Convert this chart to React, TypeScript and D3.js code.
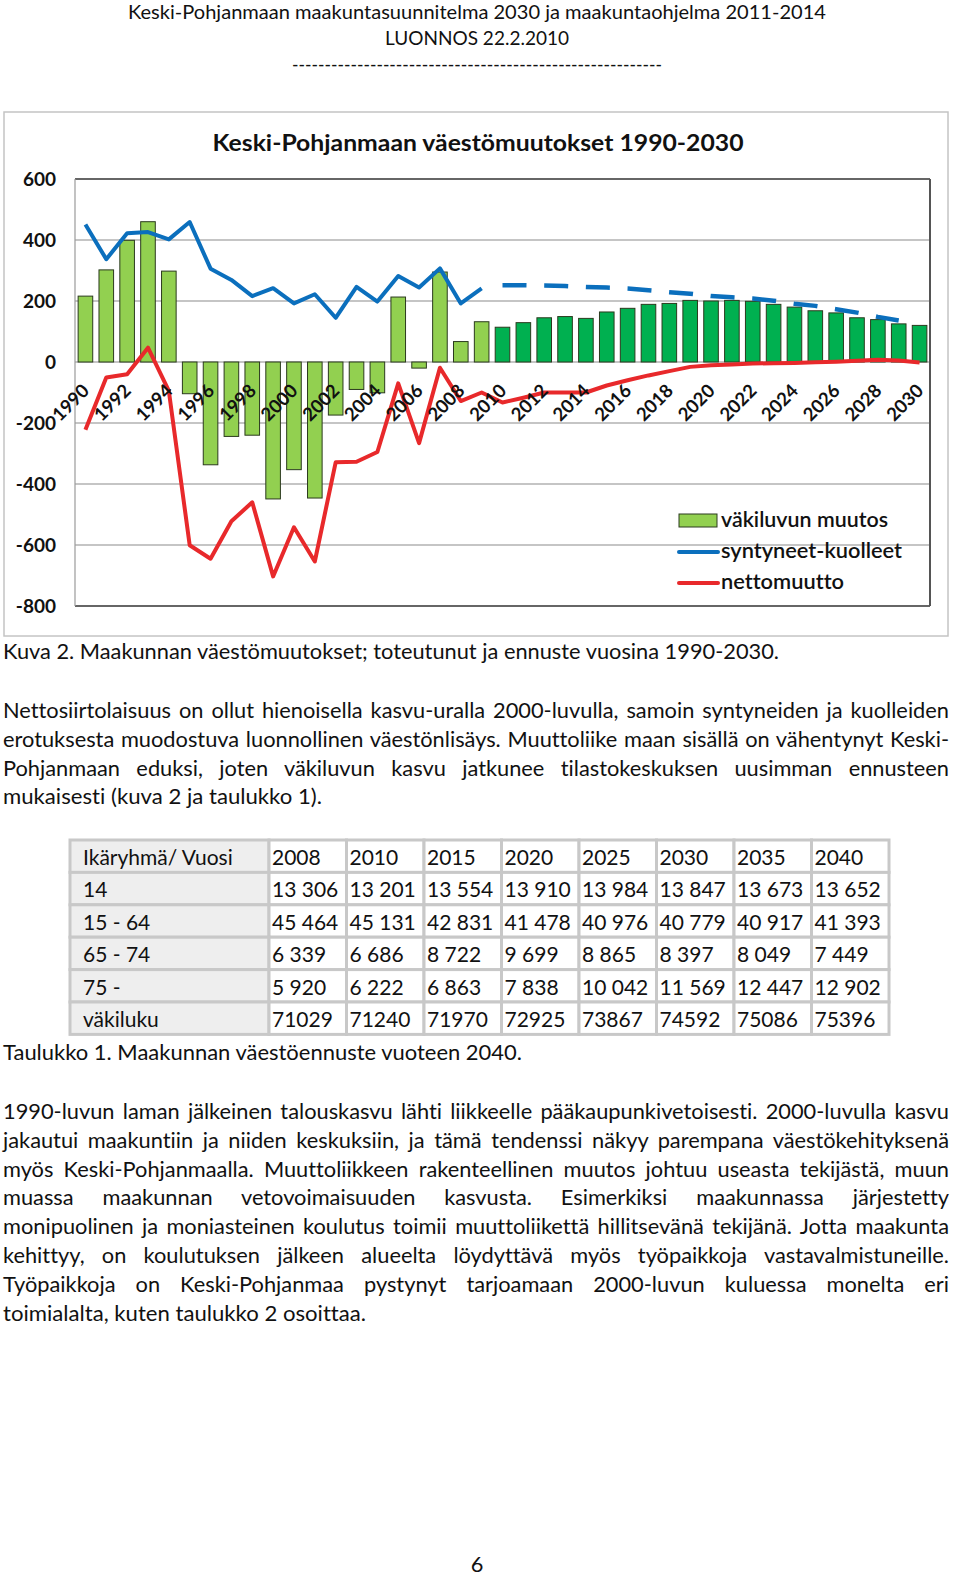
import React, { useEffect, useRef } from "react";
import * as d3 from "d3";

// vuodet (kategoriat)
const years = [
  1990, 1991, 1992, 1993, 1994, 1995, 1996, 1997, 1998, 1999, 2000, 2001, 2002,
  2003, 2004, 2005, 2006, 2007, 2008, 2009, 2010, 2011, 2012, 2013, 2014, 2015,
  2016, 2017, 2018, 2019, 2020, 2021, 2022, 2023, 2024, 2025, 2026, 2027, 2028,
  2029, 2030,
];
const lastActual = 2009;

// väkiluvun muutos 1990-2030
const muutos = [
  216, 302, 399, 460, 298, -104, -337, -244, -240, -449, -353, -446, -174, -90,
  -101, 213, -20, 295, 67, 132, 114, 129, 145, 149, 143, 164, 176, 189, 192, 202,
  200, 202, 199, 189, 180, 168, 161, 145, 139, 125, 120,
];

// syntyneet-kuolleet, toteutunut 1990-2009
const syntyneetYears = [
  1990, 1991, 1992, 1993, 1994, 1995, 1996, 1997, 1998, 1999, 2000, 2001, 2002,
  2003, 2004, 2005, 2006, 2007, 2008, 2009,
];
const syntyneet = [
  451, 337, 422, 426, 402, 459, 306, 269, 216, 242, 192, 222, 145, 246, 198, 282,
  244, 307, 192, 241,
];
// syntyneet-kuolleet, ennuste 2010-2029
const ennusteYears = [
  2010, 2011, 2012, 2013, 2014, 2015, 2016, 2017, 2018, 2019, 2020, 2021, 2022,
  2023, 2024, 2025, 2026, 2027, 2028, 2029,
];
const syntyneetEnnuste = [
  252, 252, 251, 249, 246, 244, 241, 235, 229, 224, 216, 212, 208, 201, 191, 184,
  173, 162, 148, 136,
];

// nettomuutto 1990-2030
const nettomuutto = [
  -222, -51, -40, 47, -95, -601, -645, -522, -460, -703, -542, -654, -329, -327,
  -295, -70, -266, -19, -128, -100, -133, -117, -100, -100, -100, -77, -60, -44,
  -30, -16, -11, -8, -5, -4, -3, -1, 1, 4, 7, 5, -2,
];

const yTicks = [600, 400, 200, 0, -200, -400, -600, -800];

const legendItems = ["väkiluvun muutos", "syntyneet-kuolleet", "nettomuutto"];

// taulukko 1
const tableHeader = ["Ikäryhmä/ Vuosi", "2008", "2010", "2015", "2020", "2025", "2030", "2035", "2040"];
const tableRows = [
  ["14", "13 306", "13 201", "13 554", "13 910", "13 984", "13 847", "13 673", "13 652"],
  ["15 - 64", "45 464", "45 131", "42 831", "41 478", "40 976", "40 779", "40 917", "41 393"],
  ["65 - 74", "6 339", "6 686", "8 722", "9 699", "8 865", "8 397", "8 049", "7 449"],
  ["75 -", "5 920", "6 222", "6 863", "7 838", "10 042", "11 569", "12 447", "12 902"],
  ["väkiluku", "71029", "71240", "71970", "72925", "73867", "74592", "75086", "75396"],
];

const headerLines = [
  "Keski-Pohjanmaan maakuntasuunnitelma 2030 ja maakuntaohjelma 2011-2014",
  "LUONNOS 22.2.2010",
  "---------------------------------------------------------",
];

const para1 = [
  "Nettosiirtolaisuus on ollut hienoisella kasvu-uralla 2000-luvulla, samoin syntyneiden ja kuolleiden",
  "erotuksesta muodostuva luonnollinen väestönlisäys. Muuttoliike maan sisällä on vähentynyt Keski-",
  "Pohjanmaan eduksi, joten väkiluvun kasvu jatkunee tilastokeskuksen uusimman ennusteen",
  "mukaisesti (kuva 2 ja taulukko 1).",
];
const para2 = [
  "1990-luvun laman jälkeinen talouskasvu lähti liikkeelle pääkaupunkivetoisesti. 2000-luvulla kasvu",
  "jakautui maakuntiin ja niiden keskuksiin, ja tämä tendenssi näkyy parempana väestökehityksenä",
  "myös Keski-Pohjanmaalla. Muuttoliikkeen rakenteellinen muutos johtuu useasta tekijästä, muun",
  "muassa maakunnan vetovoimaisuuden kasvusta. Esimerkiksi maakunnassa järjestetty",
  "monipuolinen ja moniasteinen koulutus toimii muuttoliikettä hillitsevänä tekijänä. Jotta maakunta",
  "kehittyy, on koulutuksen jälkeen alueelta löydyttävä myös työpaikkoja vastavalmistuneille.",
  "Työpaikkoja on Keski-Pohjanmaa pystynyt tarjoamaan 2000-luvun kuluessa monelta eri",
  "toimialalta, kuten taulukko 2 osoittaa.",
];

const FONT = "Lato, 'Open Sans', sans-serif";
const BODY = 21.8;
const LINE = 28.8;
const TEXT_LEFT = 3;
const TEXT_RIGHT = 949;

const plot = { left: 75, right: 930, top: 179, bottom: 606 };

const App: React.FC = () => {
  const svgRef = useRef<SVGSVGElement | null>(null);

  const x = d3
    .scaleBand<number>()
    .domain(years)
    .range([plot.left, plot.right])
    .paddingInner(0.3)
    .paddingOuter(0.15);
  const y = d3.scaleLinear().domain([-800, 600]).range([plot.bottom, plot.top]);
  const cx = (yr: number) => (x(yr) as number) + x.bandwidth() / 2;

  const line = d3
    .line<[number, number]>()
    .x((d) => cx(d[0]))
    .y((d) => y(d[1]));

  const solidBlue = line(syntyneetYears.map((yr, i) => [yr, syntyneet[i]]));
  const dashedBlue = line(ennusteYears.map((yr, i) => [yr, syntyneetEnnuste[i]]));
  const redLine = line(years.map((yr, i) => [yr, nettomuutto[i]]));

  useEffect(() => {
    // tasataan rivit molempiin reunoihin sanavälejä kasvattamalla
    const justify = () => {
      if (!svgRef.current) return;
      d3.select(svgRef.current)
        .selectAll<SVGTextElement, unknown>("text.justify")
        .each(function () {
          this.removeAttribute("word-spacing");
          const natural = this.getComputedTextLength();
          const spaces = (this.textContent || "").split(" ").length - 1;
          if (spaces > 0) {
            const extra = (TEXT_RIGHT - TEXT_LEFT - natural) / spaces;
            this.setAttribute("word-spacing", String(extra));
          }
        });
    };
    justify();
    if ((document as any).fonts) (document as any).fonts.ready.then(justify);
  }, []);

  const para1Top = 718;
  const para2Top = 1119;

  const tLeft = 70;
  const tTop = 840;
  const col0 = 199;
  const colW = 77.5;
  const rowH = 32.4;
  const allRows = [tableHeader, ...tableRows];
  const colX = (c: number) => (c === 0 ? tLeft : tLeft + col0 + (c - 1) * colW);
  const colWidth = (c: number) => (c === 0 ? col0 : colW);

  const headerWidths = [698, 184, 370];
  const legendWidths = [167, 181, 123];

  return (
    <div style={{ position: "absolute", left: 0, top: 0 }}>
      <svg
        ref={svgRef}
        width={960}
        height={1581}
        style={{ display: "block", background: "#fff", fontVariantLigatures: "none" }}
        fontFamily={FONT}
      >
        {/* sivun otsikko */}
        {headerLines.map((t, i) => (
          <text
            key={i}
            x={477}
            y={19 + i * 26}
            textAnchor="middle"
            fontSize={20}
            fill="#111"
            textLength={headerWidths[i]}
            lengthAdjust="spacingAndGlyphs"
          >
            {t}
          </text>
        ))}

        {/* kaavion kehys */}
        <rect x={4} y={112} width={944} height={524} fill="#fff" stroke="#c4c4c4" strokeWidth={1.5} />
        <text
          x={478}
          y={151}
          textAnchor="middle"
          fontSize={23.5}
          fontWeight="bold"
          fill="#111"
          textLength={531}
          lengthAdjust="spacingAndGlyphs"
        >
          Keski-Pohjanmaan väestömuutokset 1990-2030
        </text>

        {/* ruudukko */}
        {yTicks.map((t) => (
          <line
            key={t}
            x1={plot.left}
            x2={plot.right}
            y1={y(t)}
            y2={y(t)}
            stroke={t === 600 || t === -800 ? "#333" : "#8c8c8c"}
            strokeWidth={t === 600 || t === -800 ? 1.5 : 1.2}
          />
        ))}
        <line x1={plot.left} x2={plot.left} y1={plot.top} y2={plot.bottom} stroke="#9a9a9a" strokeWidth={1.2} />
        <line x1={plot.right} x2={plot.right} y1={plot.top} y2={plot.bottom} stroke="#555" strokeWidth={2} />

        {yTicks.map((t) => (
          <text
            key={t}
            x={56}
            y={y(t) + 7}
            textAnchor="end"
            fontSize={19}
            fontWeight="bold"
            fill="#111"
          >
            {t}
          </text>
        ))}

        {/* pylväät */}
        {years.map((yr, i) => {
          const v = muutos[i];
          return (
            <rect
              key={yr}
              x={x(yr)}
              y={y(Math.max(v, 0))}
              width={x.bandwidth()}
              height={Math.abs(y(v) - y(0))}
              fill={yr <= lastActual ? "#92d050" : "#00b050"}
              stroke="#2b3a1e"
              strokeWidth={1}
            />
          );
        })}

        {/* viivat */}
        <path d={redLine || ""} fill="none" stroke="#e8292b" strokeWidth={4} strokeLinejoin="round" />
        <path d={solidBlue || ""} fill="none" stroke="#0b6fbd" strokeWidth={4} strokeLinejoin="round" />
        <path
          d={dashedBlue || ""}
          fill="none"
          stroke="#0b6fbd"
          strokeWidth={4.5}
          strokeDasharray="24 17.7"
        />

        {/* x-akselin otsikot */}
        {years
          .filter((yr) => yr % 2 === 0)
          .map((yr) => (
            <text
              key={yr}
              transform={`translate(${cx(yr) + 5},${392}) rotate(-45)`}
              textAnchor="end"
              fontSize={18.5}
              fontWeight="bold"
              fill="#111"
            >
              {yr}
            </text>
          ))}

        {/* selite */}
        <rect x={679} y={514} width={38} height={13} fill="#92d050" stroke="#2b3a1e" strokeWidth={1} />
        <line x1={679} x2={718} y1={552} y2={552} stroke="#0b6fbd" strokeWidth={4} strokeLinecap="round" />
        <line x1={679} x2={718} y1={583} y2={583} stroke="#e8292b" strokeWidth={4} strokeLinecap="round" />
        {legendItems.map((t, i) => (
          <text
            key={t}
            x={721}
            y={[527, 558, 589][i]}
            fontSize={20.5}
            fontWeight={600}
            fill="#111"
            textLength={legendWidths[i]}
            lengthAdjust="spacingAndGlyphs"
          >
            {t}
          </text>
        ))}

        {/* kuvateksti */}
        <text
          x={TEXT_LEFT}
          y={659}
          fontSize={BODY}
          fill="#111"
          textLength={776}
          lengthAdjust="spacingAndGlyphs"
        >
          Kuva 2. Maakunnan väestömuutokset; toteutunut ja ennuste vuosina 1990-2030.
        </text>

        {para1.map((t, i) => (
          <text
            key={i}
            className={i < para1.length - 1 ? "justify" : undefined}
            x={TEXT_LEFT}
            y={para1Top + i * LINE}
            fontSize={BODY}
            fill="#111"
            {...(i === para1.length - 1 ? { textLength: 319, lengthAdjust: "spacingAndGlyphs" } : {})}
          >
            {t}
          </text>
        ))}

        {/* taulukko */}
        {allRows.map((row, r) =>
          row.map((cell, c) => (
            <g key={`${r}-${c}`}>
              <rect
                x={colX(c)}
                y={tTop + r * rowH}
                width={colWidth(c)}
                height={rowH}
                fill={c === 0 ? "#eeeeee" : "#fff"}
                stroke="#c8c8c8"
                strokeWidth={3}
              />
              <text
                x={colX(c) + (c === 0 ? 13 : 3)}
                y={tTop + r * rowH + 25}
                fontSize={21}
                fill="#111"
              >
                {cell}
              </text>
            </g>
          ))
        )}

        <text
          x={TEXT_LEFT}
          y={1060}
          fontSize={BODY}
          fill="#111"
          textLength={519}
          lengthAdjust="spacingAndGlyphs"
        >
          Taulukko 1. Maakunnan väestöennuste vuoteen 2040.
        </text>

        {para2.map((t, i) => (
          <text
            key={i}
            className={i < para2.length - 1 ? "justify" : undefined}
            x={TEXT_LEFT}
            y={para2Top + i * LINE}
            fontSize={BODY}
            fill="#111"
            {...(i === para2.length - 1 ? { textLength: 363, lengthAdjust: "spacingAndGlyphs" } : {})}
          >
            {t}
          </text>
        ))}

        <text x={477} y={1572} textAnchor="middle" fontSize={BODY} fill="#111">
          6
        </text>
      </svg>
    </div>
  );
};

export default App;
